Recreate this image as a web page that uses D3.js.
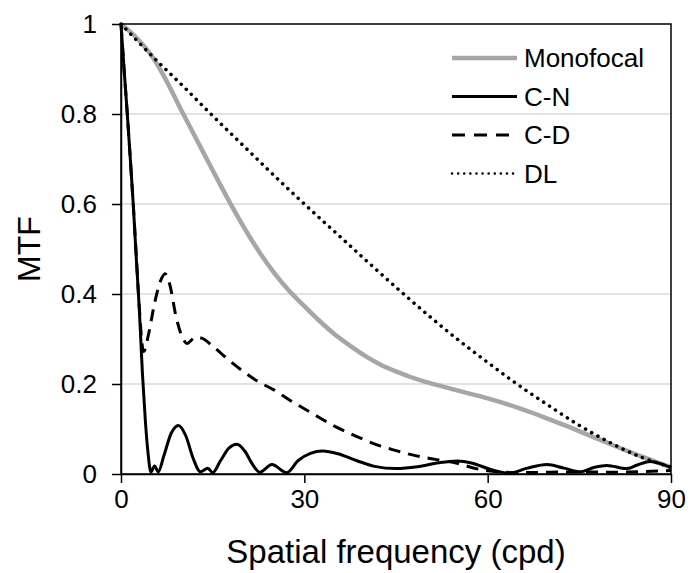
<!DOCTYPE html>
<html>
<head>
<meta charset="utf-8">
<script src="https://cdn.jsdelivr.net/npm/d3@7"></script>
<style>
  body { margin: 0; background: #fff; }
  text { font-family: "Liberation Sans", Arial, sans-serif; fill: #000; }
</style>
</head>
<body>
<svg width="690" height="573"></svg>
<script>
var svg = d3.select("svg");
var margin = { top: 24, right: 19, bottom: 99, left: 121 };
var width = svg.attr("width") - margin.left - margin.right;
var height = svg.attr("height") - margin.top - margin.bottom;

// values: [spatial frequency (cpd), MTF]
var monofocal = [[0, 1], [2.5, 0.97], [5, 0.93], [7.5, 0.872], [10, 0.805], [12.5, 0.74], [15, 0.675], [17.5, 0.611], [20, 0.551], [22.5, 0.496], [25, 0.448], [27.5, 0.407], [30, 0.373], [32.5, 0.34], [35, 0.31], [37.5, 0.285], [40, 0.262], [42.5, 0.243], [45, 0.228], [47.5, 0.215], [50, 0.204], [52.5, 0.195], [55, 0.186], [57.5, 0.177], [60, 0.168], [62.5, 0.158], [65, 0.147], [67.5, 0.135], [70, 0.122], [72.5, 0.109], [75, 0.095], [77.5, 0.081], [80, 0.067], [82.5, 0.053], [85, 0.04], [87.5, 0.027], [90, 0.015]];

var cn = [[0, 1], [0.5, 0.9], [1, 0.806], [1.5, 0.705], [2, 0.6], [2.5, 0.48], [3, 0.365], [3.5, 0.225], [4, 0.115], [4.4, 0.05], [4.9, 0.004], [5.5, 0.018], [6.1, 0.005], [7, 0.04], [8.2, 0.09], [9.4, 0.108], [10.6, 0.085], [11.8, 0.035], [13, 0.005], [14.2, 0.013], [15, 0.003], [16.3, 0.03], [17.7, 0.058], [19, 0.066], [20.3, 0.05], [21.5, 0.022], [22.7, 0.004], [24.7, 0.021], [27.1, 0.003], [29, 0.03], [31, 0.046], [33, 0.051], [35.5, 0.045], [38.5, 0.03], [41.5, 0.017], [45, 0.012], [48.5, 0.016], [52, 0.025], [55, 0.029], [57.5, 0.024], [60.5, 0.01], [63.5, 0.002], [66.5, 0.013], [69.7, 0.021], [72.5, 0.013], [75.1, 0.005], [77.5, 0.015], [79.5, 0.019], [82.7, 0.012], [84.5, 0.02], [86.6, 0.028], [88.5, 0.022], [90, 0.014]];

var cd = [[0, 1], [0.5, 0.9], [1, 0.806], [1.5, 0.705], [2, 0.6], [2.5, 0.485], [3, 0.37], [3.4, 0.295], [3.7, 0.272], [4.5, 0.31], [5.5, 0.38], [6.5, 0.43], [7.2, 0.445], [8, 0.42], [9, 0.35], [10, 0.305], [10.8, 0.29], [12.2, 0.304], [13.2, 0.302], [15, 0.284], [17.5, 0.255], [20, 0.228], [22.5, 0.205], [25, 0.187], [27.5, 0.165], [30, 0.145], [32.5, 0.125], [35, 0.106], [37.5, 0.09], [40, 0.075], [42.5, 0.062], [45, 0.052], [47.5, 0.043], [50, 0.036], [52.5, 0.03], [55, 0.024], [57.5, 0.014], [60, 0.007], [62.5, 0.004], [65, 0.003], [70, 0.004], [75, 0.005], [80, 0.004], [85, 0.005], [90, 0.008]];

var dl = [[0, 1], [5, 0.93], [10, 0.864], [15, 0.796], [20, 0.73], [25, 0.664], [30, 0.6], [35, 0.538], [40, 0.476], [45, 0.415], [50, 0.356], [55, 0.3], [60, 0.248], [65, 0.198], [70, 0.152], [75, 0.108], [80, 0.07], [85, 0.038], [90, 0.015]];

var xTicks = [0, 30, 60, 90];
var yTicks = [0, 0.2, 0.4, 0.6, 0.8, 1];
var yTickLabels = ["0", "0.2", "0.4", "0.6", "0.8", "1"];

var series = [
  { name: "Monofocal", data: monofocal, color: "#a6a6a6", width: 4.5, dash: null, legendDash: null, cap: "butt", curve: d3.curveCatmullRom },
  { name: "C-N", data: cn, color: "#000", width: 3, dash: null, legendDash: null, cap: "butt", curve: d3.curveMonotoneX },
  { name: "C-D", data: cd, color: "#000", width: 3, dash: "12,8", legendDash: "13,9", cap: "butt", curve: d3.curveMonotoneX },
  { name: "DL", data: dl, color: "#000", width: 3.5, dash: "0.1,7", legendDash: "0.1,6", cap: "round", curve: d3.curveCatmullRom }
];

var x = d3.scaleLinear().domain([0, 90]).range([0, width]);
var y = d3.scaleLinear().domain([0, 1]).range([height, 0]);

var g = svg.append("g").attr("transform", "translate(" + margin.left + "," + margin.top + ")");

// gridlines
g.selectAll(".grid")
  .data(yTicks.slice(1, -1))
  .enter()
  .append("line")
  .attr("x1", 0)
  .attr("x2", width)
  .attr("y1", function(d) { return y(d); })
  .attr("y2", function(d) { return y(d); })
  .attr("stroke", "#d9d9d9")
  .attr("stroke-width", 1.5);

g.selectAll(".series")
  .data(series)
  .enter()
  .append("path")
  .attr("d", function(s) {
    return d3.line()
      .x(function(d) { return x(d[0]); })
      .y(function(d) { return y(d[1]); })
      .curve(s.curve)(s.data);
  })
  .attr("fill", "none")
  .attr("stroke", function(s) { return s.color; })
  .attr("stroke-width", function(s) { return s.width; })
  .attr("stroke-dasharray", function(s) { return s.dash; })
  .attr("stroke-linecap", function(s) { return s.cap; });

// frame
g.append("rect")
  .attr("width", width)
  .attr("height", height)
  .attr("fill", "none")
  .attr("stroke", "#000")
  .attr("stroke-width", 1.5);

var yAxis = g.append("g")
  .call(d3.axisLeft(y).tickValues(yTicks).tickSize(9).tickSizeOuter(0).tickPadding(15)
    .tickFormat(function(d, i) { return yTickLabels[i]; }));

var xAxis = g.append("g")
  .attr("transform", "translate(0," + height + ")")
  .call(d3.axisBottom(x).tickValues(xTicks).tickSize(9).tickSizeOuter(0).tickPadding(7));

[yAxis, xAxis].forEach(function(a) {
  a.attr("font-family", null);
  a.select(".domain").attr("stroke", "#000").attr("stroke-width", 1.5);
  a.selectAll(".tick line").attr("stroke", "#000").attr("stroke-width", 1.5);
  a.selectAll(".tick text").style("font-size", "26px");
});

// axis titles
svg.append("text")
  .attr("x", margin.left + width / 2)
  .attr("y", 563)
  .attr("text-anchor", "middle")
  .style("font-size", "33px")
  .text("Spatial frequency (cpd)");

svg.append("text")
  .attr("transform", "translate(40," + (margin.top + height / 2) + ") rotate(-90)")
  .attr("text-anchor", "middle")
  .style("font-size", "32px")
  .text("MTF");

// legend
var legend = svg.append("g").attr("transform", "translate(452,58)");
var row = legend.selectAll(".row")
  .data(series)
  .enter()
  .append("g")
  .attr("transform", function(s, i) { return "translate(0," + (i * 38.5) + ")"; });

row.append("line")
  .attr("x1", 0)
  .attr("x2", 65)
  .attr("stroke", function(s) { return s.color; })
  .attr("stroke-width", function(s) { return s.name == "DL" ? 2.5 : s.width; })
  .attr("stroke-dasharray", function(s) { return s.legendDash; })
  .attr("stroke-linecap", function(s) { return s.cap; });

row.append("text")
  .attr("x", 72)
  .attr("dy", "0.35em")
  .style("font-size", "26px")
  .text(function(s) { return s.name; });
</script>
</body>
</html>
